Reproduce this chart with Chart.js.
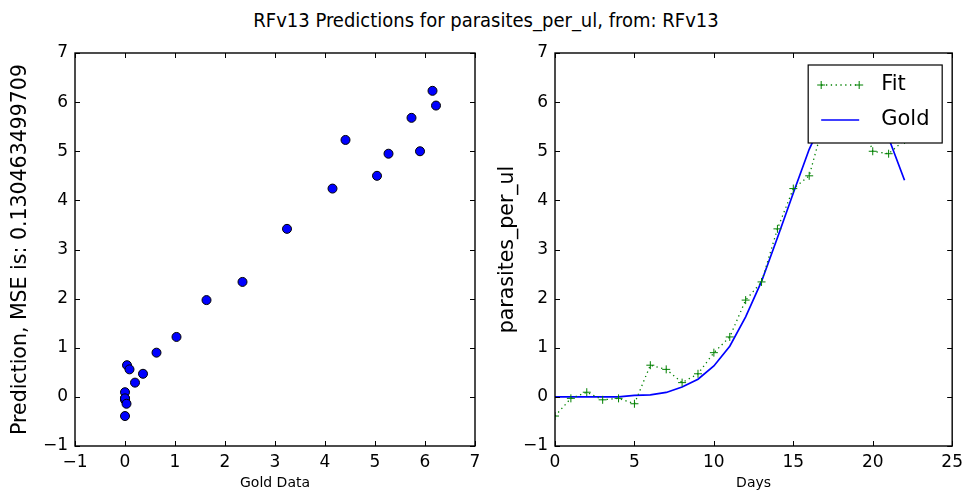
<!DOCTYPE html>
<html>
<head>
<meta charset="utf-8">
<script src="https://cdn.jsdelivr.net/npm/chart.js@4/dist/chart.umd.min.js"></script>
<style>
  body { margin: 0; background: #fff; }
  #wrap { position: relative; width: 969px; height: 496px; overflow: hidden; }
  #title { position: absolute; left: 0; top: 8px; width: 972px; text-align: center;
           font: 20px "DejaVu Sans Condensed", "DejaVu Sans", sans-serif; line-height: 24px; color: #000; }
  canvas { position: absolute; top: 0; }
</style>
</head>
<body>
<div id="wrap">
  <div id="title">RFv13 Predictions for parasites_per_ul, from: RFv13</div>
  <canvas id="scatter" width="490" height="496" style="left:0"></canvas>
  <canvas id="series" width="479" height="496" style="left:490px"></canvas>
</div>
<script>
// values
const days = [0, 1, 2, 3, 4, 5, 6, 7, 8, 9, 10, 11, 12, 13, 14, 15, 16, 17, 18, 19, 20, 21, 22];
const gold = [0, 0, 0, 0, 0, 0.03, 0.04, 0.09, 0.2, 0.36, 0.63, 1.03, 1.63, 2.35, 3.24, 4.15, 5.04, 5.73, 6.15, 6.22, 5.9, 5.27, 4.41];
const fit = [-0.39, -0.03, 0.095, -0.06, -0.03, -0.14, 0.645, 0.56, 0.29, 0.47, 0.9, 1.22, 1.97, 2.34, 3.42, 4.24, 4.5, 5.68, 6.23, 5.93, 5.0, 4.95, 5.23];
const mse = '0.130463499709';

const tickFont = { family: 'DejaVu Sans', size: 17 };
const minus = v => String(v).replace('-', '\u2212');

// matplotlib style box with ticks pointing inward on all sides
const frame = {
    id: 'frame',
    afterDatasetsDraw(chart) {
        let ctx = chart.ctx, a = chart.chartArea, x = chart.scales.x, y = chart.scales.y;
        ctx.save();
        ctx.strokeStyle = '#000';
        ctx.lineWidth = 1;
        ctx.beginPath();
        x.ticks.forEach(t => {
            let px = Math.round(x.getPixelForValue(t.value)) + 0.5;
            ctx.moveTo(px, a.bottom); ctx.lineTo(px, a.bottom - 5);
            ctx.moveTo(px, a.top); ctx.lineTo(px, a.top + 5);
        });
        y.ticks.forEach(t => {
            let py = Math.round(y.getPixelForValue(t.value)) + 0.5;
            ctx.moveTo(a.left, py); ctx.lineTo(a.left + 5, py);
            ctx.moveTo(a.right, py); ctx.lineTo(a.right - 5, py);
        });
        ctx.stroke();
        ctx.lineWidth = 1.4;
        ctx.strokeRect(a.left, a.top, a.width, a.height);
        ctx.restore();
    }
};

// legend in the upper right corner of the axes
const boxLegend = {
    id: 'boxLegend',
    afterDraw(chart) {
        let ctx = chart.ctx, a = chart.chartArea;
        let w = 134, h = 78;
        let bx = a.right - 10 - w, by = a.top + 12;
        ctx.save();
        ctx.fillStyle = '#fff';
        ctx.fillRect(bx, by, w, h);
        ctx.strokeStyle = '#000';
        ctx.lineWidth = 1.2;
        ctx.strokeRect(bx, by, w, h);
        chart.data.datasets.forEach((ds, i) => {
            let ly = by + 20 + i * 35;
            let x0 = bx + 13, x1 = bx + 51;
            ctx.strokeStyle = ds.borderColor;
            ctx.lineWidth = ds.borderWidth;
            ctx.setLineDash(ds.borderDash || []);
            ctx.beginPath(); ctx.moveTo(x0, ly); ctx.lineTo(x1, ly); ctx.stroke();
            ctx.setLineDash([]);
            if (ds.pointRadius) {
                ctx.lineWidth = 1;
                [x0, x1].forEach(px => {
                    ctx.beginPath();
                    ctx.moveTo(px - 4, ly); ctx.lineTo(px + 4, ly);
                    ctx.moveTo(px, ly - 4); ctx.lineTo(px, ly + 4);
                    ctx.stroke();
                });
            }
            ctx.fillStyle = '#000';
            ctx.font = '21px "DejaVu Sans"';
            ctx.textBaseline = 'middle';
            ctx.fillText(ds.label, bx + 73, ly);
        });
        ctx.restore();
    }
};

let axes = (xmin, xmax, xstep, xtitle, ytitle, ytitlePad, ywidth) => ({
    x: {
        type: 'linear', min: xmin, max: xmax,
        grid: { display: false, drawTicks: false }, border: { display: false },
        ticks: { stepSize: xstep, font: tickFont, color: '#000', padding: 6, maxRotation: 0, callback: minus },
        title: { display: true, text: xtitle, color: '#000', font: { family: 'DejaVu Sans', size: 14 }, padding: { top: 0, bottom: 4 } },
        afterFit: s => { s.height = 50; }
    },
    y: {
        type: 'linear', min: -1, max: 7,
        grid: { display: false, drawTicks: false }, border: { display: false },
        ticks: { stepSize: 1, font: tickFont, color: '#000', padding: 7, callback: minus },
        title: { display: true, text: ytitle, color: '#000', font: { family: 'DejaVu Sans', size: 20.5 }, padding: { top: ytitlePad, bottom: 0 } },
        afterFit: s => { s.width = ywidth; }
    }
});

new Chart(document.getElementById('scatter'), {
    type: 'scatter',
    data: {
        datasets: [{
            label: 'pred',
            data: gold.map((g, i) => ({ x: g, y: fit[i] })),
            backgroundColor: '#0000ff',
            borderColor: '#000',
            borderWidth: 1,
            pointRadius: 4.5
        }]
    },
    options: {
        responsive: false,
        animation: false,
        layout: { padding: { top: 53, right: 15, left: 0, bottom: 0 } },
        plugins: { legend: { display: false }, tooltip: { enabled: false } },
        scales: axes(-1, 7, 1, 'Gold Data', 'Prediction, MSE is: ' + mse, 8, 75)
    },
    plugins: [frame]
});

new Chart(document.getElementById('series'), {
    type: 'scatter',
    data: {
        datasets: [
            {
                label: 'Fit',
                data: days.map((d, i) => ({ x: d, y: fit[i] })),
                showLine: true,
                borderColor: '#008000',
                backgroundColor: '#008000',
                borderWidth: 1.3,
                borderDash: [1.3, 3.5],
                pointStyle: 'cross',
                pointRadius: 4,
                pointBorderWidth: 1
            },
            {
                label: 'Gold',
                data: days.map((d, i) => ({ x: d, y: gold[i] })),
                showLine: true,
                borderColor: '#0000ff',
                backgroundColor: '#0000ff',
                borderWidth: 1.7,
                pointRadius: 0
            }
        ]
    },
    options: {
        responsive: false,
        animation: false,
        layout: { padding: { top: 53, right: 14, left: 0, bottom: 0 } },
        plugins: { legend: { display: false }, tooltip: { enabled: false } },
        scales: axes(0, 25, 5, 'Days', 'parasites_per_ul', 5, 65)
    },
    plugins: [frame, boxLegend]
});
</script>
</body>
</html>
